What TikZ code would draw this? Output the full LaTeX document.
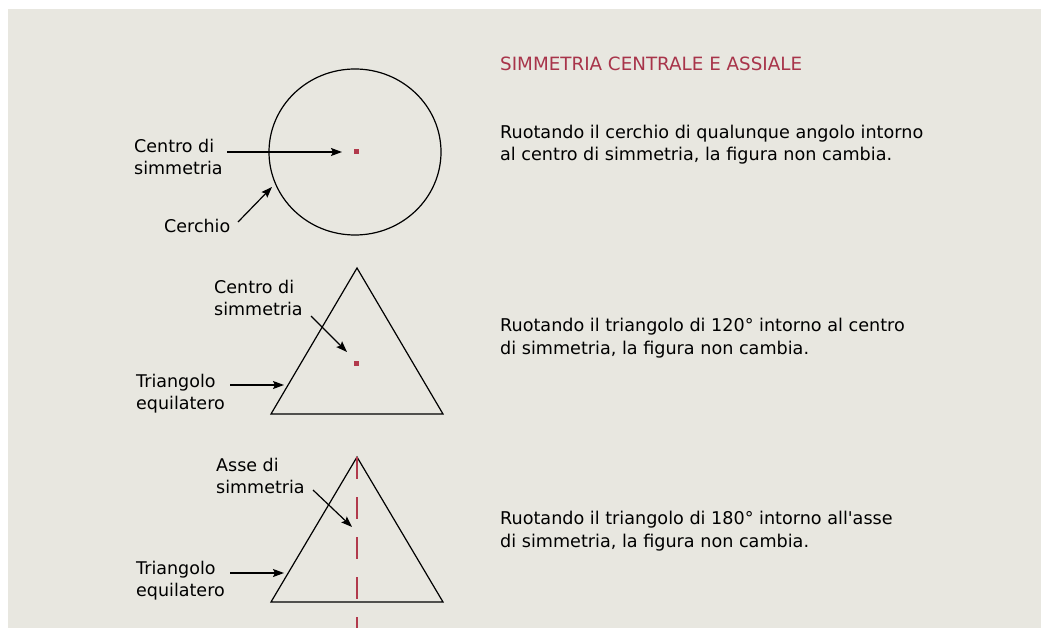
\documentclass[tikz,border=0pt]{standalone}
\usepackage{fontspec}
\setmainfont{DejaVu Sans}
\usetikzlibrary{arrows.meta,shapes.geometric}
\definecolor{bg}{HTML}{E8E7E0}
\definecolor{symred}{HTML}{B23A4C}
\definecolor{titlered}{HTML}{A8344A}
\begin{document}
\begin{tikzpicture}[x=1pt,y=-1pt,
  lbl/.style={anchor=base west,inner sep=0pt,align=left,font=\fontsize{17.5}{22}\selectfont},
  body/.style={anchor=base west,inner sep=0pt,align=left,font=\fontsize{17.6}{22.5}\selectfont},
  ptr/.style={draw=black,line width=1.2pt,-{Stealth[length=11pt,width=8pt,inset=2pt]}},
  figline/.style={draw=black,line width=1.2pt},
  reddot/.style={fill=symred,minimum size=5pt,inner sep=0pt,draw=none,rectangle},
]
\useasboundingbox (0,0) rectangle (1041,628);
\fill[white] (0,0) rectangle (1041,628);
\fill[bg] (8,9) rectangle (1041,628);

% title and descriptions (base anchor = last line baseline)
\node[body,text=titlered,font=\fontsize{18.3}{22}\selectfont] (title) at (500,71) {SIMMETRIA CENTRALE E ASSIALE};
\node[body] (d1) at (500,161) {Ruotando il cerchio di qualunque angolo intorno\\al centro di simmetria, la figura non cambia.};
\node[body] (d2) at (500,354) {Ruotando il triangolo di 120° intorno al centro\\di simmetria, la figura non cambia.};
\node[body] (d3) at (500,547) {Ruotando il triangolo di 180° intorno all\textquotesingle asse\\di simmetria, la figura non cambia.};

% circle
\node[figline,ellipse,minimum width=172pt,minimum height=166pt,inner sep=0pt] (circ) at (355,152) {};
\node[reddot] (c1) at (356,152) {};
\node[lbl] (lc1) at (134,175) {Centro di\\simmetria};
\node[lbl] (lcer) at (164,233) {Cerchio};
\coordinate (lc1s) at (227,152);
\coordinate (lc1t) at (342,152);
\coordinate (lcers) at (238,222);
\coordinate (lcert) at (272,187);
\draw[ptr] (lc1s) -- (lc1t);
\draw[ptr] (lcers) -- (lcert);

% triangle 2
\coordinate (t2a) at (357,268);
\coordinate (t2b) at (271,414);
\coordinate (t2c) at (443,414);
\draw[figline,line join=miter] (t2a) -- (t2b) -- (t2c) -- cycle;
\node[reddot] (c2) at (356,363) {};
\node[lbl] (lc2) at (214,316) {Centro di\\simmetria};
\node[lbl] (lt2) at (136,409) {Triangolo\\equilatero};
\coordinate (lc2s) at (311,316);
\coordinate (lc2t) at (347,352);
\coordinate (lt2s) at (230,385);
\coordinate (lt2t) at (284,385);
\draw[ptr] (lc2s) -- (lc2t);
\draw[ptr] (lt2s) -- (lt2t);

% triangle 3
\coordinate (t3a) at (357,457);
\coordinate (t3b) at (271,602);
\coordinate (t3c) at (443,602);
\coordinate (axb) at (357,628);
\draw[figline,line join=miter] (t3a) -- (t3b) -- (t3c) -- cycle;
\draw[symred,line width=1.6pt,dash pattern=on 22pt off 18pt] (t3a) -- (axb);
\node[lbl] (la3) at (216,493) {Asse di\\simmetria};
\node[lbl] (lt3) at (136,596) {Triangolo\\equilatero};
\coordinate (la3s) at (313,490);
\coordinate (la3t) at (352,527);
\coordinate (lt3s) at (230,573);
\coordinate (lt3t) at (284,573);
\draw[ptr] (la3s) -- (la3t);
\draw[ptr] (lt3s) -- (lt3t);
\end{tikzpicture}
\end{document}
